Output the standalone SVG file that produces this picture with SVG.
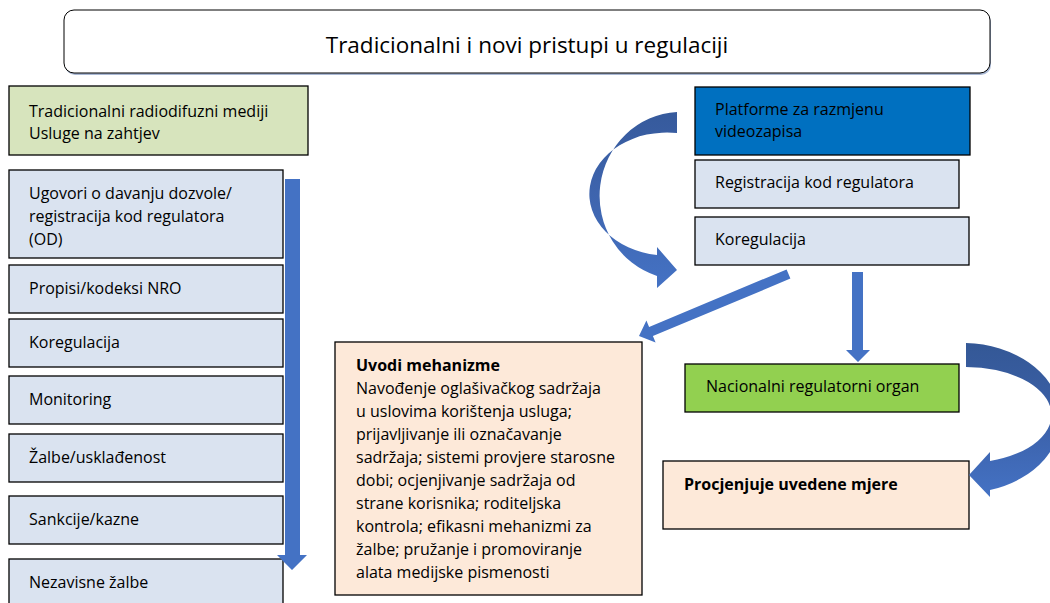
<svg xmlns="http://www.w3.org/2000/svg" width="1050" height="603" viewBox="0 0 1050 603">
<defs>
<linearGradient id="gl" x1="0" y1="0" x2="0" y2="1">
<stop offset="0" stop-color="#365a9c"/><stop offset="0.45" stop-color="#3e64ad"/><stop offset="1" stop-color="#4472c4"/>
</linearGradient>
<linearGradient id="gr" x1="0" y1="0" x2="0" y2="1">
<stop offset="0" stop-color="#345896"/><stop offset="0.5" stop-color="#3b60a8"/><stop offset="1" stop-color="#4472c4"/>
</linearGradient>
</defs>
<style>
text{font-family:"Open Sans","Noto Sans","DejaVu Sans",sans-serif;fill:#000;font-size:16px}
.b{stroke:#000;stroke-width:1.3}
.lb{fill:#dae3f0}
.pe{fill:#fde9d9}
.bold{font-weight:bold}
.arr{fill:#4472c4}
</style>
<rect width="1050" height="603" fill="#fff"/>
<g id="title">
<rect x="65" y="12" width="926" height="63" rx="10" fill="#a9b8d4"/>
<rect x="64" y="10" width="926" height="63" rx="10" fill="#fff" stroke="#000" stroke-width="1"/>
<text x="527" y="53" text-anchor="middle" style="font-size:22.5px">Tradicionalni i novi pristupi u regulaciji</text>
</g>
<g id="n-trad">
<rect x="9" y="86" width="299" height="69" fill="#d7e4bd" class="b"/>
<text x="29" y="117">Tradicionalni radiodifuzni mediji</text>
<text x="29" y="139">Usluge na zahtjev</text>
</g>
<g id="n-ugovori">
<rect x="9" y="170" width="274" height="88" class="b lb"/>
<text x="29" y="199">Ugovori o davanju dozvole/</text>
<text x="29" y="222">registracija kod regulatora</text>
<text x="29" y="245">(OD)</text>
</g>
<g id="n-propisi">
<rect x="9" y="265" width="274" height="48" class="b lb"/>
<text x="29" y="294">Propisi/kodeksi NRO</text>
</g>
<g id="n-koreg1">
<rect x="9" y="319" width="274" height="48" class="b lb"/>
<text x="29" y="348">Koregulacija</text>
</g>
<g id="n-monitoring">
<rect x="9" y="376" width="274" height="48" class="b lb"/>
<text x="29" y="405">Monitoring</text>
</g>
<g id="n-zalbe">
<rect x="9" y="434" width="274" height="48" class="b lb"/>
<text x="29" y="463">Žalbe/usklađenost</text>
</g>
<g id="n-sankcije">
<rect x="9" y="496" width="274" height="48" class="b lb"/>
<text x="29" y="525">Sankcije/kazne</text>
</g>
<g id="n-nezavisne">
<rect x="9" y="559" width="274" height="60" class="b lb"/>
<text x="29" y="588">Nezavisne žalbe</text>
</g>
<g id="n-platforme">
<rect x="695" y="87" width="275" height="68" fill="#0070c0" class="b"/>
<text x="715" y="115">Platforme za razmjenu</text>
<text x="715" y="137">videozapisa</text>
</g>
<g id="n-registracija">
<rect x="695" y="160" width="264" height="48" class="b lb" stroke="#333"/>
<text x="715" y="188">Registracija kod regulatora</text>
</g>
<g id="n-koreg2">
<rect x="695" y="217" width="274" height="48" class="b lb"/>
<text x="715" y="245">Koregulacija</text>
</g>
<g id="n-nro">
<rect x="685" y="364" width="274" height="48" fill="#92d050" class="b"/>
<text x="706" y="392">Nacionalni regulatorni organ</text>
</g>
<g id="n-procjenjuje">
<rect x="663" y="461" width="306" height="68" class="b pe"/>
<text x="684" y="490" class="bold">Procjenjuje uvedene mjere</text>
</g>
<g id="n-uvodi">
<rect x="335" y="342" width="307" height="253" class="b pe"/>
<text x="356" y="371" class="bold">Uvodi mehanizme</text>
<text x="356" y="394">Navođenje oglašivačkog sadržaja</text>
<text x="356" y="417">u uslovima korištenja usluga;</text>
<text x="356" y="440">prijavljivanje ili označavanje</text>
<text x="356" y="463">sadržaja; sistemi provjere starosne</text>
<text x="356" y="486">dobi; ocjenjivanje sadržaja od</text>
<text x="356" y="509">strane korisnika; roditeljska</text>
<text x="356" y="532">kontrola; efikasni mehanizmi za</text>
<text x="356" y="555">žalbe; pružanje i promoviranje</text>
<text x="356" y="578">alata medijske pismenosti</text>
</g>
<g id="connectors">
<path class="arr" d="M285,179 L300,179 L300,555 L307,555 L292,570 L277,555 L285,555 Z"/>
<path fill="url(#gl)" d="M677,112 A82,84 0 0 0 657,276 L657,288 L677,270 L657,247 L657,255 A77,61 0 0 1 677,133 Z"/>
<path class="arr" d="M786.6,269.4 L790.4,278.6 L652.9,336.1 L655.6,342.6 L639,336 L646.4,320.4 L649.1,326.9 Z"/>
<path class="arr" d="M852,272 L863,272 L863,350 L870,350 L858,362 L846,350 L852,350 Z"/>
<path fill="url(#gr)" d="M966,343 A98,75 0 0 1 990,490 L990,497 L969,475 L990,452 L990,461 A86,48 0 0 0 966,367 Z"/>
</g>
</svg>
